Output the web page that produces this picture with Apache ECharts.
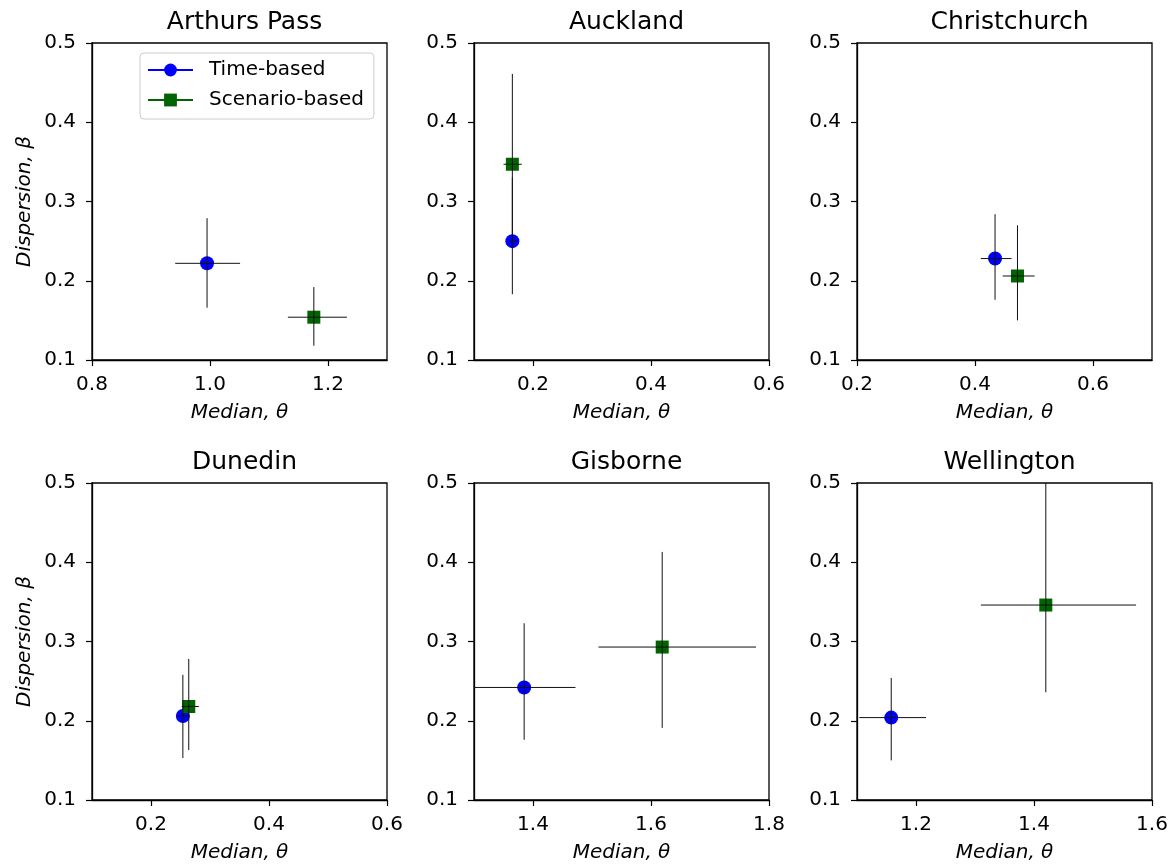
<!DOCTYPE html>
<html>
<head>
<meta charset="utf-8">
<title>Median and dispersion by site</title>
<script src="https://cdn.jsdelivr.net/npm/echarts@6/dist/echarts.min.js"></script>
<style>
  html, body { margin: 0; padding: 0; background: #ffffff; }
  #chart { width: 1171px; height: 865px; }
</style>
</head>
<body>
<div id="chart"></div>
<script>
// Sites, one panel each
const sites = ['Arthurs Pass', 'Auckland', 'Christchurch', 'Dunedin', 'Gisborne', 'Wellington'];

// x-axis extent and tick values per panel
const xMin = [0.8, 0.1, 0.2, 0.1, 1.3, 1.1];
const xMax = [1.3, 0.6, 0.7, 0.6, 1.8, 1.6];
const xTicks = [
  [0.8, 1.0, 1.2],
  [0.2, 0.4, 0.6],
  [0.2, 0.4, 0.6],
  [0.2, 0.4, 0.6],
  [1.4, 1.6, 1.8],
  [1.2, 1.4, 1.6]
];
const yTicks = [0.1, 0.2, 0.3, 0.4, 0.5];

// Time-based fragility: median θ, dispersion β and their ranges
const timeMedian = [0.995, 0.165, 0.434, 0.254, 1.385, 1.158];
const timeDispersion = [0.222, 0.250, 0.228, 0.206, 0.242, 0.204];
const timeMedianRange = [[0.941, 1.051], [0.160, 0.173], [0.410, 0.462], [0.243, 0.266], [1.298, 1.472], [1.104, 1.217]];
const timeDispersionRange = [[0.166, 0.279], [0.183, 0.330], [0.176, 0.284], [0.153, 0.258], [0.176, 0.323], [0.150, 0.254]];

// Scenario-based fragility
const scenMedian = [1.176, 0.165, 0.472, 0.264, 1.619, 1.420];
const scenDispersion = [0.154, 0.347, 0.206, 0.218, 0.293, 0.346];
const scenMedianRange = [[1.132, 1.232], [0.150, 0.181], [0.447, 0.501], [0.252, 0.281], [1.511, 1.778], [1.310, 1.573]];
const scenDispersionRange = [[0.118, 0.192], [0.245, 0.461], [0.150, 0.270], [0.163, 0.278], [0.191, 0.413], [0.236, 0.500]];

const FONT = 'DejaVu Sans';
const gridLefts = [92, 474, 857];
const gridTops = [43, 483];
const gridW = 295;
const gridH = 317;

const chart = echarts.init(document.getElementById('chart'), null, { renderer: 'canvas' });

const grids = [], xAxes = [], yAxes = [], series = [], titles = [];

// Crosshair error bars: horizontal median range, vertical dispersion range
function errorBarRender(params, api) {
  const c = api.coord([api.value(0), api.value(1)]);
  const xl = api.coord([api.value(2), api.value(1)]);
  const xh = api.coord([api.value(3), api.value(1)]);
  const yl = api.coord([api.value(0), api.value(4)]);
  const yh = api.coord([api.value(0), api.value(5)]);
  const style = { stroke: '#111111', lineWidth: 1 };
  return {
    type: 'group',
    children: [
      { type: 'line', shape: { x1: xl[0], y1: c[1], x2: xh[0], y2: c[1] }, style: style },
      { type: 'line', shape: { x1: c[0], y1: yl[1], x2: c[0], y2: yh[1] }, style: style }
    ]
  };
}

sites.forEach((site, i) => {
  const col = i % 3, row = Math.floor(i / 3);
  const left = gridLefts[col], top = gridTops[row];
  grids.push({
    left: left, top: top, width: gridW, height: gridH,
    show: true, borderColor: '#000000', borderWidth: 1.3, backgroundColor: '#ffffff'
  });
  titles.push({
    text: site,
    left: left + gridW / 2,
    top: top - 38,
    textAlign: 'center',
    textStyle: { fontFamily: FONT, fontSize: 25, fontWeight: 'normal', color: '#000000' }
  });
  xAxes.push({
    type: 'value', gridIndex: i, min: xMin[i], max: xMax[i],
    name: 'Median, θ', nameLocation: 'middle', nameGap: 43,
    nameTextStyle: { fontFamily: FONT, fontSize: 20, fontStyle: 'italic', color: '#000000' },
    axisLine: { show: true, lineStyle: { color: '#000000', width: 1.3 } },
    axisTick: { show: true, length: 6, lineStyle: { color: '#000000', width: 1.2 }, customValues: xTicks[i] },
    axisLabel: {
      show: true, margin: 15, customValues: xTicks[i],
      fontFamily: FONT, fontSize: 20, color: '#000000',
      formatter: v => Number(v).toFixed(1)
    },
    splitLine: { show: false }
  });
  yAxes.push({
    type: 'value', gridIndex: i, min: 0.1, max: 0.5,
    name: col === 0 ? 'Dispersion, β' : '', nameLocation: 'middle', nameGap: 57,
    nameTextStyle: { fontFamily: FONT, fontSize: 20, fontStyle: 'italic', color: '#000000' },
    axisLine: { show: true, lineStyle: { color: '#000000', width: 1.3 } },
    axisTick: { show: true, length: 6, lineStyle: { color: '#000000', width: 1.2 }, customValues: yTicks },
    axisLabel: {
      show: true, margin: 16, customValues: yTicks,
      fontFamily: FONT, fontSize: 20, color: '#000000',
      formatter: v => Number(v).toFixed(1)
    },
    splitLine: { show: false }
  });

  series.push({
    name: 'Time-based', type: 'line', xAxisIndex: i, yAxisIndex: i,
    symbol: 'circle', symbolSize: 14, showSymbol: true,
    itemStyle: { color: '#0000ff' },
    lineStyle: { color: '#0000ff', width: 2.2 },
    data: [[timeMedian[i], timeDispersion[i]]],
    z: 2
  });
  series.push({
    name: 'Scenario-based', type: 'line', xAxisIndex: i, yAxisIndex: i,
    symbol: 'rect', symbolSize: 13, showSymbol: true,
    itemStyle: { color: '#006400' },
    lineStyle: { color: '#006400', width: 2.2 },
    data: [[scenMedian[i], scenDispersion[i]]],
    z: 2
  });
  series.push({
    type: 'custom', xAxisIndex: i, yAxisIndex: i, clip: true, z: 5,
    renderItem: errorBarRender,
    encode: { x: 0, y: 1 },
    silent: true,
    data: [
      [timeMedian[i], timeDispersion[i], timeMedianRange[i][0], timeMedianRange[i][1], timeDispersionRange[i][0], timeDispersionRange[i][1]],
      [scenMedian[i], scenDispersion[i], scenMedianRange[i][0], scenMedianRange[i][1], scenDispersionRange[i][0], scenDispersionRange[i][1]]
    ]
  });
});

chart.setOption({
  animation: false,
  backgroundColor: '#ffffff',
  title: titles,
  legend: {
    data: ['Time-based', 'Scenario-based'],
    orient: 'vertical',
    left: 140, top: 53,
    itemWidth: 45, itemHeight: 16, itemGap: 8,
    padding: [6, 10, 8, 7],
    borderColor: '#cccccc', borderWidth: 1, borderRadius: 4,
    backgroundColor: '#ffffff',
    textStyle: { fontFamily: FONT, fontSize: 20, color: '#000000', lineHeight: 22, padding: [0, 0, 0, 11] },
    selectedMode: false,
    z: 10
  },
  grid: grids,
  xAxis: xAxes,
  yAxis: yAxes,
  series: series
});
</script>
</body>
</html>
